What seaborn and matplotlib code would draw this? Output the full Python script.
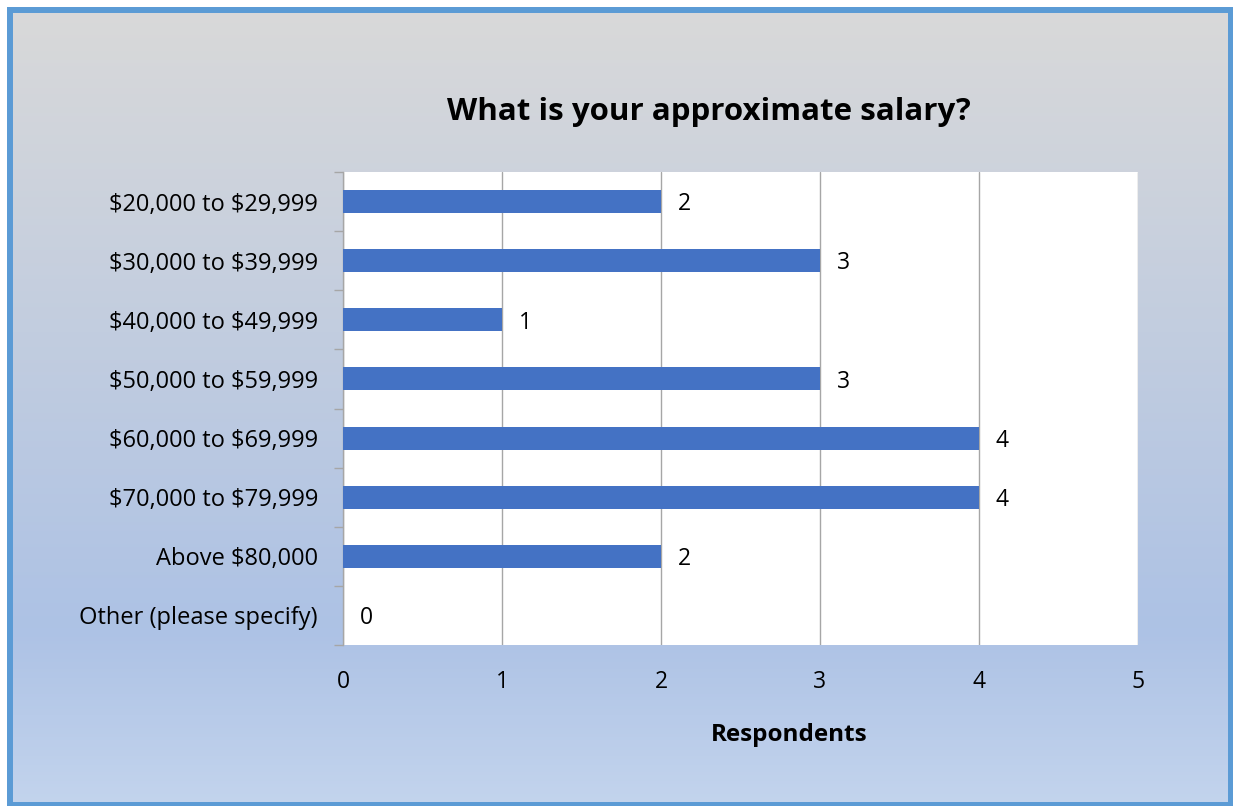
import matplotlib
matplotlib.use("Agg")
import matplotlib.pyplot as plt
import numpy as np
import pandas as pd
import seaborn as sns
from matplotlib.colors import LinearSegmentedColormap
from matplotlib.patches import Rectangle

# survey answers
categories = ["$20,000 to $29,999", "$30,000 to $39,999", "$40,000 to $49,999",
              "$50,000 to $59,999", "$60,000 to $69,999", "$70,000 to $79,999",
              "Above $80,000", "Other (please specify)"]
respondents = [2, 3, 1, 3, 4, 4, 2, 0]
x_ticks = [0, 1, 2, 3, 4, 5]

df = pd.DataFrame({"salary": categories, "count": respondents})

sns.set_theme(style="white")
plt.rcParams["font.family"] = ["Open Sans", "DejaVu Sans"]
plt.rcParams["text.color"] = "black"
plt.rcParams["xtick.color"] = "black"
plt.rcParams["ytick.color"] = "black"

W, H = 1233, 806
fig = plt.figure(figsize=(W / 100, H / 100), dpi=100)
fig.patch.set_facecolor("white")

# gradient background of the chart area
bg = fig.add_axes([7 / W, 0, (1233 - 7) / W, (806 - 7) / H], zorder=0)
grad = LinearSegmentedColormap.from_list(
    "bg", [(0.0, "#d9d9d9"), (0.78, "#adc2e5"), (1.0, "#c3d4ed")])
bg.imshow(np.linspace(0, 1, 256).reshape(-1, 1), aspect="auto", cmap=grad,
          extent=[0, 1, 0, 1], origin="upper")
bg.set_axis_off()

# blue frame
fig.patches.append(Rectangle((10 / W, 1.5 / H), (1231 - 10) / W, (796 - 1.5) / H,
                             transform=fig.transFigure, fill=False,
                             edgecolor="#5b9bd5", linewidth=4.3, zorder=5))

ax = fig.add_axes([343 / W, 161 / H, 795 / W, 473 / H], zorder=2)
ax.set_facecolor("white")
sns.barplot(data=df, x="count", y="salary", orient="h", color="#4472c4",
            width=0.39, saturation=1, linewidth=0, ax=ax, zorder=3)

ax.set_xlim(0, 5)
ax.set_ylim(len(categories) - 0.5, -0.5)
ax.set_xticks(x_ticks)
ax.set_xticklabels([str(t) for t in x_ticks], fontsize=16.5)
ax.tick_params(axis="x", length=0, pad=18)
ax.xaxis.grid(True, color="#a6a6a6", linewidth=1.0, zorder=0)
ax.set_axisbelow(True)

# category labels at centers, tick marks at boundaries
ax.set_yticks(range(len(categories)))
ax.set_yticklabels([c.replace("$", r"\$") for c in categories], fontsize=17)
ax.tick_params(axis="y", which="major", length=0, pad=18)
ax.set_yticks(np.arange(-0.5, len(categories)), minor=True)
ax.tick_params(axis="y", which="minor", length=6.5, width=1.0, color="#a6a6a6",
               direction="out", left=True)

for side in ["top", "right", "bottom"]:
    ax.spines[side].set_visible(False)
ax.spines["left"].set_color("#a6a6a6")
ax.spines["left"].set_linewidth(1.0)

for i, v in enumerate(respondents):
    ax.annotate(str(v), (v, i), xytext=(12, -2), textcoords="offset points",
                va="center", ha="left", fontsize=16.5)

ax.set_xlabel("")
ax.set_ylabel("")

fig.text(709 / W, 1 - 112 / H, "What is your approximate salary?",
         ha="center", va="center", fontsize=22.5, fontweight="bold")
fig.text(789 / W, 1 - 735 / H, "Respondents", ha="center", va="center",
         fontsize=17.5, fontweight="bold")

fig.savefig("out.png", dpi=100)
